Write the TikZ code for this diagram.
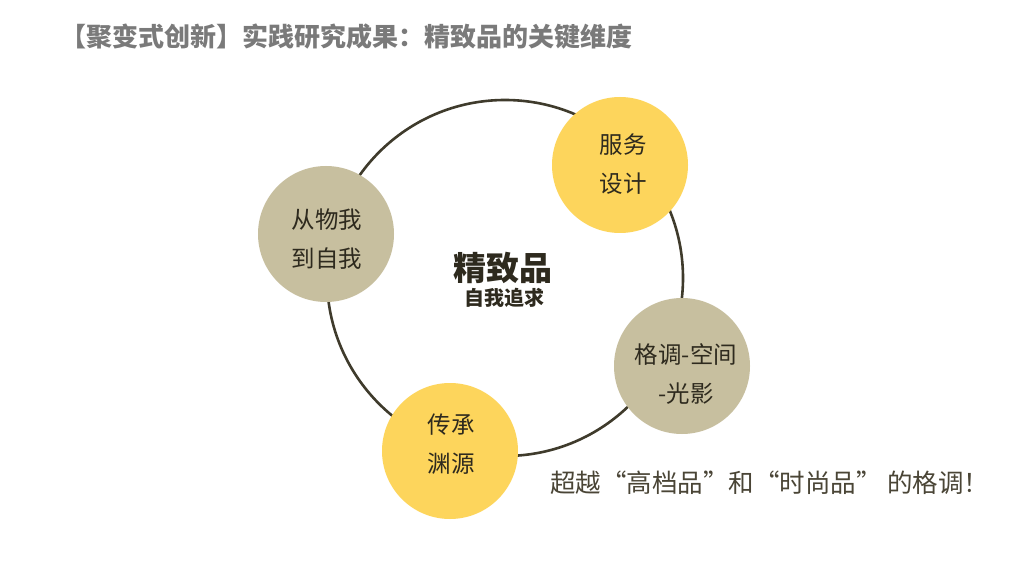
\documentclass[tikz,border=0pt]{standalone}
\usepackage{fontspec}
\newfontfamily\cjk{Noto Sans CJK SC}
\definecolor{ringc}{HTML}{3F3B2C}
\definecolor{grayc}{HTML}{C7BF9F}
\definecolor{yelc}{HTML}{FDD55C}
\definecolor{txtc}{HTML}{2E2A1E}
\definecolor{titlec}{HTML}{7A7A7A}
\definecolor{bottomc}{HTML}{4A4536}
\tikzset{
  bubble/.style={circle, minimum size=136pt, inner sep=0pt, align=center, text=txtc,
    font=\cjk\fontsize{23.5}{39.5}\selectfont},
  graybubble/.style={bubble, fill=grayc},
  yelbubble/.style={bubble, fill=yelc},
}
\begin{document}
\begin{tikzpicture}[x=1pt,y=-1pt]
\useasboundingbox[fill=white] (0,0) rectangle (1018,572);
\node[circle, draw=ringc, line width=2.6pt, minimum size=356pt, inner sep=0pt] (ring) at (505,278) {};
\node[graybubble] (a) at (326,234) {};
\node[yelbubble] (b) at (620,165) {};
\node[graybubble] (c) at (682,366) {};
\node[yelbubble] (d) at (450,451) {};
\node[bubble, minimum size=0pt] (la) at (327,239) {从物我\\到自我};
\node[bubble, minimum size=0pt] (lb) at (623,164) {服务\\设计};
\node[bubble, minimum size=0pt] (lc) at (686,374) {格调-空间\\-光影};
\node[bubble, minimum size=0pt] (ld) at (451,444) {传承\\渊源};
\node[text=txtc, font=\cjk\bfseries\fontsize{33}{36}\selectfont, inner sep=0pt] (t1) at (503,268) {精致品};
\node[text=txtc, font=\cjk\bfseries\fontsize{20}{22}\selectfont, inner sep=0pt] (t2) at (504,298) {自我追求};
\node[anchor=west, text=titlec, font=\cjk\bfseries\fontsize{26}{28}\selectfont, inner sep=0pt] (title) at (60,37) {【聚变式创新】实践研究成果：精致品的关键维度};
\node[anchor=west, text=bottomc, font=\cjk\fontsize{25.5}{27}\selectfont, inner sep=0pt] (bot) at (550,483) {超越“高档品”和“时尚品” 的格调！};
\end{tikzpicture}
\end{document}
